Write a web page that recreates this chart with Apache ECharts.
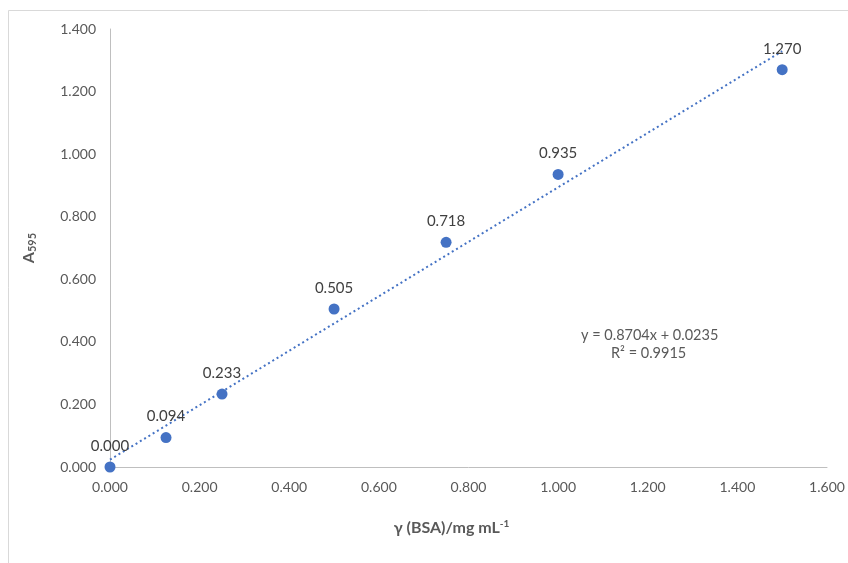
<!DOCTYPE html>
<html><head><meta charset="utf-8">
<script src="https://cdn.jsdelivr.net/npm/echarts@6/dist/echarts.min.js"></script>
<style>html,body{margin:0;padding:0;background:#fff}#c{width:848px;height:563px}</style>
</head><body><div id="c"></div>
<script>
const xValues = [0, 0.125, 0.25, 0.5, 0.75, 1.0, 1.5];
const yValues = [0.000, 0.094, 0.233, 0.505, 0.718, 0.935, 1.270];
const slope = 0.8704;
const intercept = 0.0235;
const rSquared = 0.9915;
const trendX = [0, 1.5];

const chart = echarts.init(document.getElementById('c'));
const font = 'Lato, "Open Sans", sans-serif';
const pts = xValues.map((x, i) => [x, yValues[i]]);
const trend = trendX.map(x => [x, slope * x + intercept]);

chart.setOption({
  animation: false,
  backgroundColor: '#fff',
  textStyle: {fontFamily: font},
  grid: {left: 110, right: 21, top: 29, bottom: 96},
  xAxis: {
    type: 'value', min: 0, max: 1.6, interval: 0.2,
    axisLine: {show: true, lineStyle: {color: '#bfbfbf', width: 1}},
    axisTick: {show: false},
    splitLine: {show: false},
    axisLabel: {color: '#595959', fontSize: 14, margin: 13, formatter: v => v.toFixed(3), fontFamily: font},
    name: '{t|γ (BSA)/mg mL}{s|-1}', nameLocation: 'middle', nameGap: 52,
    nameTextStyle: {
      padding: [0, 34, 0, 0],
      rich: {
        t: {color: '#595959', fontSize: 16, fontWeight: 'bold', fontFamily: font},
        s: {color: '#595959', fontSize: 10, fontWeight: 'bold', fontFamily: font, padding: [0, 0, 8, 0]}
      }
    }
  },
  yAxis: {
    type: 'value', min: 0, max: 1.4, interval: 0.2,
    axisLine: {show: true, lineStyle: {color: '#bfbfbf', width: 1}},
    axisTick: {show: false},
    splitLine: {show: false},
    axisLabel: {color: '#595959', fontSize: 14, margin: 14, formatter: v => v.toFixed(3), fontFamily: font},
    name: '{a|A}{s|595}', nameLocation: 'middle', nameGap: 72,
    nameTextStyle: {
      rich: {
        a: {color: '#595959', fontSize: 16, fontWeight: 'bold', fontFamily: font},
        s: {color: '#595959', fontSize: 11, fontWeight: 'bold', fontFamily: font, padding: [8, 0, 0, 0]}
      }
    }
  },
  series: [
    {
      type: 'line', data: trend, symbol: 'none', silent: true, z: 1,
      lineStyle: {color: '#4472C4', width: 2, type: [2, 3]}
    },
    {
      type: 'scatter', data: pts, symbolSize: 11, z: 2,
      itemStyle: {color: '#4472C4', opacity: 1},
      label: {show: true, position: 'top', distance: 8, color: '#404040', fontSize: 15, fontFamily: font,
        formatter: p => p.value[1].toFixed(3)}
    }
  ],
  graphic: [
    {type: 'rect', shape: {x: 8.5, y: 10.5, width: 900, height: 600}, style: {fill: 'none', stroke: '#d9d9d9', lineWidth: 1}, silent: true},
    {type: 'text', left: 581, top: 328, style: {text: 'y = 0.8704x + 0.0235', fill: '#595959', fontSize: 14.5, fontFamily: font}},
    {type: 'text', left: 611, top: 346, style: {text: 'R² = ' + rSquared.toFixed(4), fill: '#595959', fontSize: 14.5, fontFamily: font}}
  ]
});
</script></body></html>
